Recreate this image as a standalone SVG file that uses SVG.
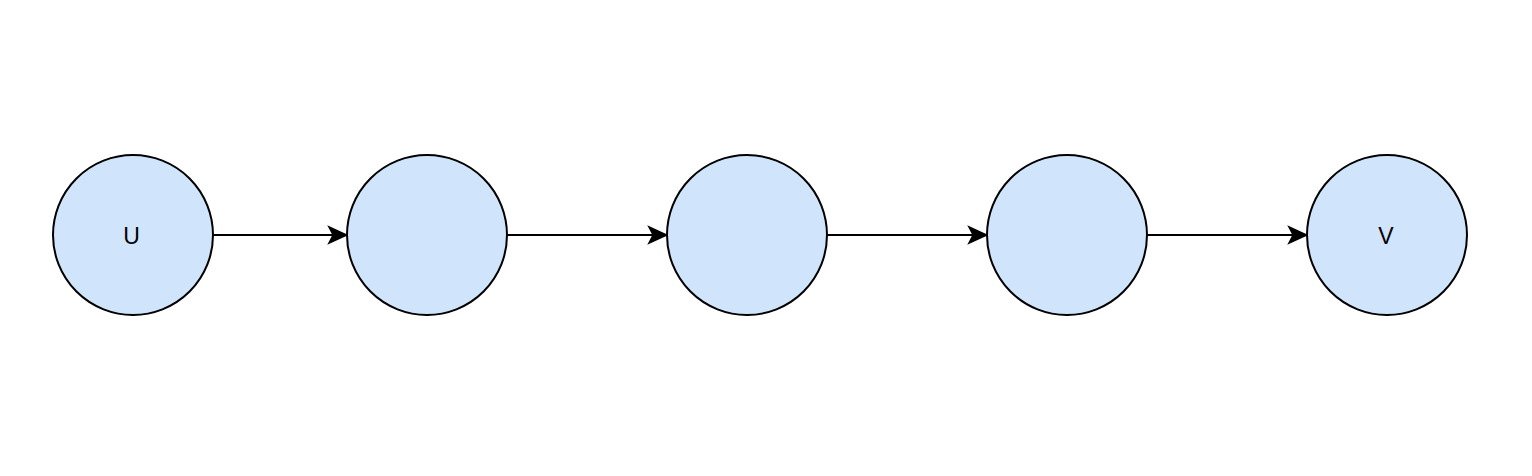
<svg xmlns="http://www.w3.org/2000/svg" width="1532" height="476" viewBox="0 0 1532 476">
<style>
.n{fill:#d0e4fc;stroke:#000;stroke-width:2}
.t{font-family:"Liberation Sans",Arial,sans-serif;font-size:23px;fill:#000;text-anchor:middle}
.e{stroke:#000;stroke-width:2;fill:none}
.h{fill:#000;stroke:#000;stroke-width:2;stroke-linejoin:miter}
</style>
<rect width="1532" height="476" fill="#fff"/>
<g id="connectors">
<path class="e" d="M213 235H337"/><path class="h" d="M346 235l-16.5 7.5 4-7.5-4-7.5z"/>
<path class="e" d="M507 235H657"/><path class="h" d="M666 235l-16.5 7.5 4-7.5-4-7.5z"/>
<path class="e" d="M827 235H977"/><path class="h" d="M986 235l-16.5 7.5 4-7.5-4-7.5z"/>
<path class="e" d="M1147 235H1297"/><path class="h" d="M1306 235l-16.5 7.5 4-7.5-4-7.5z"/>
</g>
<g id="node-u"><circle class="n" cx="133" cy="235" r="80"/><text class="t" x="131.5" y="244">U</text></g>
<g id="node-2"><circle class="n" cx="427" cy="235" r="80"/></g>
<g id="node-3"><circle class="n" cx="747" cy="235" r="80"/></g>
<g id="node-4"><circle class="n" cx="1067" cy="235" r="80"/></g>
<g id="node-v"><circle class="n" cx="1387" cy="235" r="80"/><text class="t" x="1386" y="244">V</text></g>
</svg>
